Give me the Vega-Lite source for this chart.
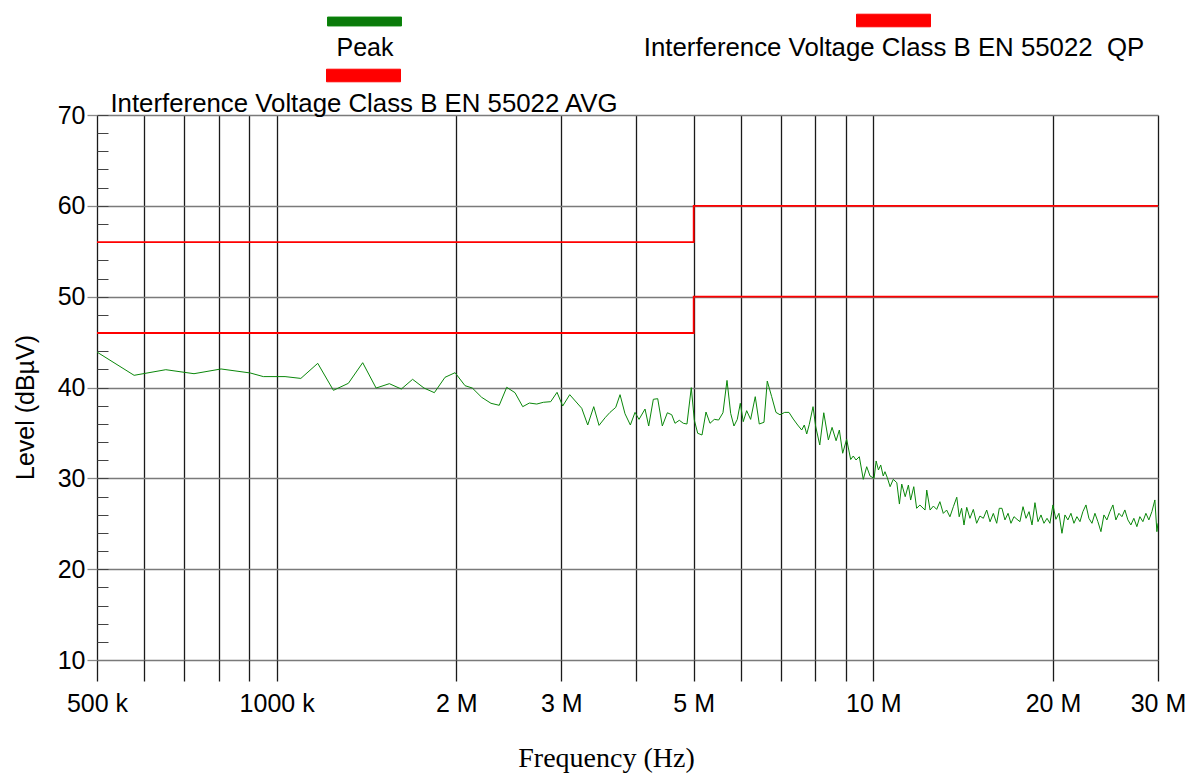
{
  "$schema": "https://vega.github.io/schema/vega-lite/v6.json",
  "width": 1061,
  "height": 545,
  "autosize": {"type": "none"},
  "padding": {"left": 97, "top": 115, "right": 34, "bottom": 114},
  "background": "white",
  "config": {"view": {"stroke": null}, "font": "Liberation Sans"},
  "datasets": {
    "peak": [
      {"f":0.5,"v":43.9},{"f":0.577,"v":41.34},{"f":0.652,"v":41.96},{"f":0.727,"v":41.52},{"f":0.807,"v":42.04},{"f":0.903,"v":41.6},{"f":0.95,"v":41.2},{"f":1.033,"v":41.2},{"f":1.098,"v":41.0},{"f":1.172,"v":42.66},{"f":1.245,"v":39.69},{"f":1.319,"v":40.46},{"f":1.394,"v":42.73},{"f":1.468,"v":39.94},{"f":1.545,"v":40.42},{"f":1.618,"v":39.83},{"f":1.69,"v":40.9},{"f":1.766,"v":39.94},{"f":1.838,"v":39.43},{"f":1.915,"v":41.12},{"f":1.991,"v":41.63},
      {"f":2.069,"v":40.2},{"f":2.128,"v":39.94},{"f":2.206,"v":38.92},{"f":2.287,"v":38.26},{"f":2.361,"v":38.04},{"f":2.43,"v":40.02},{"f":2.509,"v":39.43},{"f":2.585,"v":37.89},{"f":2.652,"v":38.29},{"f":2.729,"v":38.18},{"f":2.799,"v":38.37},{"f":2.88,"v":38.44},{"f":2.951,"v":39.47},{"f":3.016,"v":37.96},{"f":3.099,"v":39.21},{"f":3.246,"v":37.71},{"f":3.322,"v":35.87},{"f":3.4,"v":37.89},{"f":3.47,"v":35.83},{"f":3.552,"v":36.67},{"f":3.62,"v":37.26},{"f":3.701,"v":37.81},{"f":3.763,"v":39.21},{"f":3.836,"v":37.11},{"f":3.916,"v":35.87},{"f":3.987,"v":37.26},{"f":4.049,"v":36.49},{"f":4.144,"v":37.63},{"f":4.203,"v":35.76},{"f":4.279,"v":38.7},{"f":4.352,"v":38.77},{"f":4.43,"v":35.76},{"f":4.517,"v":37.22},{"f":4.594,"v":37.0},{"f":4.652,"v":36.06},{"f":4.73,"v":36.39},{"f":4.804,"v":36.06},{"f":4.872,"v":35.98},{"f":4.954,"v":39.98},
      {"f":5.012,"v":36.42},{"f":5.078,"v":34.96},{"f":5.163,"v":34.77},{"f":5.243,"v":37.3},{"f":5.325,"v":36.06},{"f":5.414,"v":36.49},{"f":5.506,"v":36.42},{"f":5.598,"v":37.22},{"f":5.686,"v":40.78},{"f":5.767,"v":37.15},{"f":5.841,"v":35.76},{"f":5.916,"v":36.49},{"f":5.985,"v":38.26},{"f":6.054,"v":36.24},{"f":6.134,"v":37.45},{"f":6.229,"v":36.49},{"f":6.341,"v":38.99},{"f":6.44,"v":35.98},{"f":6.558,"v":36.17},{"f":6.642,"v":40.71},{"f":6.756,"v":38.99},{"f":6.869,"v":37.26},{"f":6.976,"v":37.0},{"f":7.104,"v":37.26},{"f":7.222,"v":37.26},{"f":7.343,"v":36.53},{"f":7.469,"v":35.87},{"f":7.586,"v":35.32},{"f":7.662,"v":35.87},{"f":7.734,"v":34.88},{"f":7.812,"v":35.95},{"f":7.925,"v":37.89},{"f":8.007,"v":35.69},{"f":8.133,"v":33.67},{"f":8.26,"v":37.22},{"f":8.408,"v":34.22},{"f":8.529,"v":35.61},{"f":8.662,"v":34.14},{"f":8.772,"v":35.32},{"f":8.885,"v":32.76},{"f":9.022,"v":34.3},{"f":9.164,"v":32.07},{"f":9.256,"v":32.46},{"f":9.354,"v":32.02},{"f":9.474,"v":32.38},{"f":9.621,"v":29.89},{"f":9.748,"v":31.28},{"f":9.874,"v":30.26},
      {"f":10.03,"v":30.0},{"f":10.11,"v":31.91},{"f":10.2,"v":30.92},{"f":10.29,"v":31.47},{"f":10.39,"v":30.26},{"f":10.46,"v":30.73},{"f":10.55,"v":30.11},{"f":10.67,"v":29.08},{"f":10.8,"v":29.89},{"f":10.95,"v":29.52},{"f":11.06,"v":27.17},{"f":11.16,"v":29.37},{"f":11.31,"v":27.98},{"f":11.45,"v":29.26},{"f":11.55,"v":27.61},{"f":11.69,"v":29.08},{"f":11.82,"v":26.7},{"f":11.97,"v":27.06},{"f":12.21,"v":26.51},{"f":12.29,"v":28.71},{"f":12.45,"v":26.51},{"f":12.61,"v":26.95},{"f":12.77,"v":26.58},{"f":12.93,"v":27.43},{"f":13.1,"v":26.14},{"f":13.27,"v":26.51},{"f":13.44,"v":25.77},{"f":13.62,"v":26.88},{"f":13.8,"v":27.92},{"f":13.93,"v":25.77},{"f":14.06,"v":26.7},{"f":14.19,"v":24.86},{"f":14.34,"v":26.81},{"f":14.52,"v":25.6},{"f":14.71,"v":26.58},{"f":14.9,"v":25.05},{"f":15.09,"v":25.85},{"f":15.29,"v":25.6},{"f":15.49,"v":26.51},{"f":15.69,"v":25.22},{"f":15.89,"v":26.14},{"f":16.1,"v":25.05},{"f":16.26,"v":26.7},
      {"f":16.43,"v":26.7},{"f":16.62,"v":25.42},{"f":16.82,"v":26.15},{"f":17.01,"v":25.05},{"f":17.21,"v":25.78},{"f":17.41,"v":25.49},{"f":17.61,"v":25.23},{"f":17.82,"v":26.88},{"f":18.03,"v":25.6},{"f":18.24,"v":26.33},{"f":18.45,"v":24.87},{"f":18.66,"v":27.32},{"f":18.88,"v":25.23},{"f":19.1,"v":25.97},{"f":19.32,"v":25.05},{"f":19.55,"v":25.6},{"f":19.77,"v":25.05},{"f":20.0,"v":27.07},{"f":20.23,"v":25.49},{"f":20.47,"v":26.15},{"f":20.71,"v":23.95},{"f":20.95,"v":25.97},{"f":21.19,"v":25.42},{"f":21.44,"v":26.15},{"f":21.69,"v":25.05},{"f":21.94,"v":25.78},{"f":22.2,"v":25.23},{"f":22.45,"v":26.33},{"f":22.72,"v":27.07},{"f":22.98,"v":25.6},{"f":23.25,"v":25.05},{"f":23.52,"v":26.15},{"f":23.79,"v":25.23},{"f":24.07,"v":24.13},{"f":24.35,"v":25.97},{"f":24.63,"v":25.42},{"f":24.92,"v":26.33},{"f":25.21,"v":27.07},{"f":25.5,"v":25.42},{"f":25.8,"v":26.15},{"f":26.1,"v":25.78},{"f":26.4,"v":26.52},{"f":26.71,"v":25.42},{"f":27.02,"v":24.87},{"f":27.33,"v":25.6},{"f":27.65,"v":24.68},{"f":27.97,"v":25.78},{"f":28.3,"v":25.23},{"f":28.63,"v":26.15},{"f":28.96,"v":25.42},{"f":29.3,"v":26.33},{"f":29.64,"v":27.62},{"f":29.87,"v":24.13},{"f":30.0,"v":25.05}
    ],
    "qp": [
      {"f":0.5,"v":56,"o":1,"s":"Interference Voltage Class B EN 55022  QP"},
      {"f":5,"v":56,"o":2,"s":"Interference Voltage Class B EN 55022  QP"},
      {"f":5,"v":60,"o":3,"s":"Interference Voltage Class B EN 55022  QP"},
      {"f":30,"v":60,"o":4,"s":"Interference Voltage Class B EN 55022  QP"}
    ],
    "avg": [
      {"f":0.5,"v":46,"o":1,"s":"Interference Voltage Class B EN 55022 AVG"},
      {"f":5,"v":46,"o":2,"s":"Interference Voltage Class B EN 55022 AVG"},
      {"f":5,"v":50,"o":3,"s":"Interference Voltage Class B EN 55022 AVG"},
      {"f":30,"v":50,"o":4,"s":"Interference Voltage Class B EN 55022 AVG"}
    ]
  },
  "layer": [
    {
      "data": {"name": "peak"},
      "mark": {"type": "line", "strokeWidth": 1, "clip": true},
      "encoding": {
        "x": {
          "field": "f", "type": "quantitative",
          "scale": {"type": "log", "domain": [0.5, 30], "nice": false},
          "axis": {
            "values": [0.5,0.6,0.7,0.8,0.9,1,2,3,4,5,6,7,8,9,10,20,30],
            "labelExpr": "datum.value==0.5?'500 k':datum.value==1?'1000 k':(datum.value==2||datum.value==3||datum.value==5||datum.value==10||datum.value==20||datum.value==30)?datum.value+' M':''",
            "grid": true, "gridColor": "#1a1a1a", "gridWidth": 1.3, "gridOpacity": 1,
            "domain": false,
            "tickSize": 21, "tickColor": "#1a1a1a", "tickWidth": 1.3,
            "labelFontSize": 25, "labelFont": "Liberation Sans", "labelColor": "#000",
            "labelPadding": 10, "labelFlush": false, "labelOverlap": false, "labelBound": false,
            "title": "Frequency (Hz)", "titleFont": "Liberation Serif", "titleFontSize": 28,
            "titleFontWeight": "normal", "titleColor": "#000", "titleX": 509, "titleY": 84,
            "titleBaseline": "top", "titleAlign": "center", "titleAnchor": null
          }
        },
        "y": {
          "field": "v", "type": "quantitative",
          "scale": {"domain": [10, 70], "nice": false, "zero": false},
          "axis": {
            "values": [10,20,30,40,50,60,70],
            "grid": true, "gridColor": "#7a7a7a", "gridWidth": 1.3, "gridOpacity": 1,
            "domain": false,
            "tickSize": 10, "tickColor": "#8a8a8a", "tickWidth": 1.3,
            "labelFontSize": 25, "labelFont": "Liberation Sans", "labelColor": "#000", "labelPadding": 2,
            "title": "Level (dBµV)", "titleFont": "Liberation Sans", "titleFontSize": 25,
            "titleFontWeight": "normal", "titleColor": "#000",
            "titleX": -72, "titleY": 292, "titleAngle": -90, "titleBaseline": "middle", "titleAlign": "center"
          }
        },
        "color": {
          "datum": "Peak",
          "scale": {"domain": ["Peak"], "range": ["#0a870a"]},
          "legend": {
            "orient": "none", "legendX": 230, "legendY": -131, "padding": 0,
            "title": "Peak", "titleOrient": "bottom", "titleAnchor": "middle", "titleAlign": "center",
            "titleFont": "Liberation Sans", "titleFontSize": 25, "titleFontWeight": "normal", "titleColor": "#000",
            "titlePadding": 8, "titleLimit": 2000,
            "labelExpr": "''", "labelFontSize": 1, "labelOffset": 0,
            "symbolType": "M-1,-0.12H1V0.12H-1Z", "symbolSize": 5476,
            "symbolFillColor": "#0a7a0a", "symbolStrokeColor": "#004400", "symbolStrokeWidth": 1, "symbolOffset": 0
          }
        }
      }
    },
    {
      "data": {"name": "qp"},
      "mark": {"type": "line", "strokeWidth": 1.8, "clip": true},
      "encoding": {
        "x": {"field": "f", "type": "quantitative"},
        "y": {
          "field": "v", "type": "quantitative",
          "axis": {
            "orient": "left", "values": [12,14,16,18,20,22,24,26,28,30,32,34,36,38,40,42,44,46,48,50,52,54,56,58,60,62,64,66,68,70],
            "offset": -11, "tickSize": 11, "tickColor": "#444", "tickWidth": 1,
            "labels": false, "domain": false, "grid": false, "title": null
          }
        },
        "order": {"field": "o", "type": "quantitative"},
        "color": {
          "field": "s", "type": "nominal",
          "scale": {"domain": ["Interference Voltage Class B EN 55022  QP"], "range": ["#ff0000"]},
          "legend": {
            "orient": "none", "legendX": 547, "legendY": -132, "padding": 0,
            "title": "Interference Voltage Class B EN 55022\u00a0 QP", "titleOrient": "bottom", "titleAnchor": "middle", "titleAlign": "center",
            "titleFont": "Liberation Sans", "titleFontSize": 25.8, "titleFontWeight": "normal", "titleColor": "#000",
            "titlePadding": 7, "titleLimit": 2000,
            "labelExpr": "''", "labelFontSize": 1, "labelOffset": 0,
            "symbolType": "M-1,-0.17H1V0.17H-1Z", "symbolSize": 5476,
            "symbolFillColor": "#ff0000", "symbolStrokeColor": "#550000", "symbolStrokeWidth": 1, "symbolOffset": 0
          }
        }
      }
    },
    {
      "data": {"name": "avg"},
      "mark": {"type": "line", "strokeWidth": 1.8, "clip": true},
      "encoding": {
        "x": {"field": "f", "type": "quantitative"},
        "y": {"field": "v", "type": "quantitative", "axis": null},
        "order": {"field": "o", "type": "quantitative"},
        "color": {
          "field": "s", "type": "nominal",
          "scale": {"domain": ["Interference Voltage Class B EN 55022 AVG"], "range": ["#ff0000"]},
          "legend": {
            "orient": "none", "legendX": 13, "legendY": -77, "padding": 0,
            "title": "Interference Voltage Class B EN 55022 AVG", "titleOrient": "bottom", "titleAnchor": "middle", "titleAlign": "center",
            "titleFont": "Liberation Sans", "titleFontSize": 25.8, "titleFontWeight": "normal", "titleColor": "#000",
            "titlePadding": 8, "titleLimit": 2000,
            "labelExpr": "''", "labelFontSize": 1, "labelOffset": 0,
            "symbolType": "M-1,-0.17H1V0.17H-1Z", "symbolSize": 5476,
            "symbolFillColor": "#ff0000", "symbolStrokeColor": "#550000", "symbolStrokeWidth": 1, "symbolOffset": 0
          }
        }
      }
    }
  ],
  "resolve": {"scale": {"color": "independent"}, "axis": {"y": "independent"}}
}
